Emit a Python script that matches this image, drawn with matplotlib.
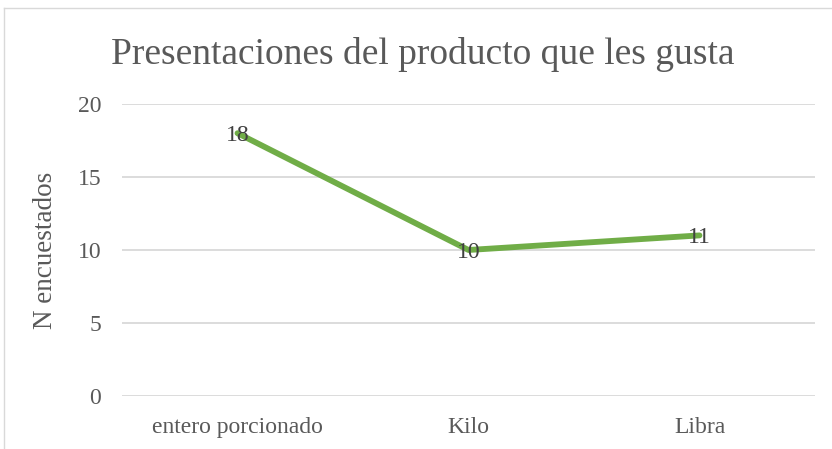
import matplotlib
matplotlib.use("Agg")
import matplotlib.pyplot as plt
from matplotlib.lines import Line2D

categorias = ["entero porcionado", "Kilo", "Libra"]
encuestados = [18, 10, 11]
ticks_y = [0, 5, 10, 15, 20]

plt.rcParams['font.family'] = ['Liberation Serif', 'DejaVu Serif']
gris = "#595959"

fig = plt.figure(figsize=(8.32, 4.49), dpi=100)
ax = fig.add_axes([122/832, 1 - 396/449, (815-122)/832, (396-104)/449])

x = range(len(categorias))
ax.plot(x, encuestados, color="#70AD47", linewidth=4.2, solid_capstyle="round", zorder=3)
for i, v in zip(x, encuestados):
    ax.text(i, v, str(v), ha="center", va="center_baseline", fontsize=17, color="#404040", zorder=4)

ax.set_xlim(-0.5, len(categorias) - 0.5)
ax.set_ylim(0, 20)
ax.set_yticks(ticks_y)
ax.set_xticks(list(x))
ax.set_xticklabels(categorias)
ax.grid(axis="y", color="#D9D9D9", linewidth=1.3)
ax.set_axisbelow(True)
for s in ax.spines.values():
    s.set_visible(False)
ax.tick_params(axis="both", length=0, labelsize=17, colors=gris)
ax.tick_params(axis="x", pad=15)
ax.tick_params(axis="y", pad=15)
ax.set_ylabel("N encuestados", fontsize=19.5, color=gris, labelpad=14)

fig.suptitle("Presentaciones del producto que les gusta", fontsize=27, color=gris,
             x=(111+735)/2/832, y=1 - 55/449, va="center")

# borde del gráfico
fig.add_artist(Line2D([3.5/832, 3.5/832], [0, 1 - 8/449], color="#D9D9D9", linewidth=1))
fig.add_artist(Line2D([3.5/832, 1], [1 - 8/449, 1 - 8/449], color="#D9D9D9", linewidth=1))

fig.savefig("out.png", dpi=100, facecolor="white")
